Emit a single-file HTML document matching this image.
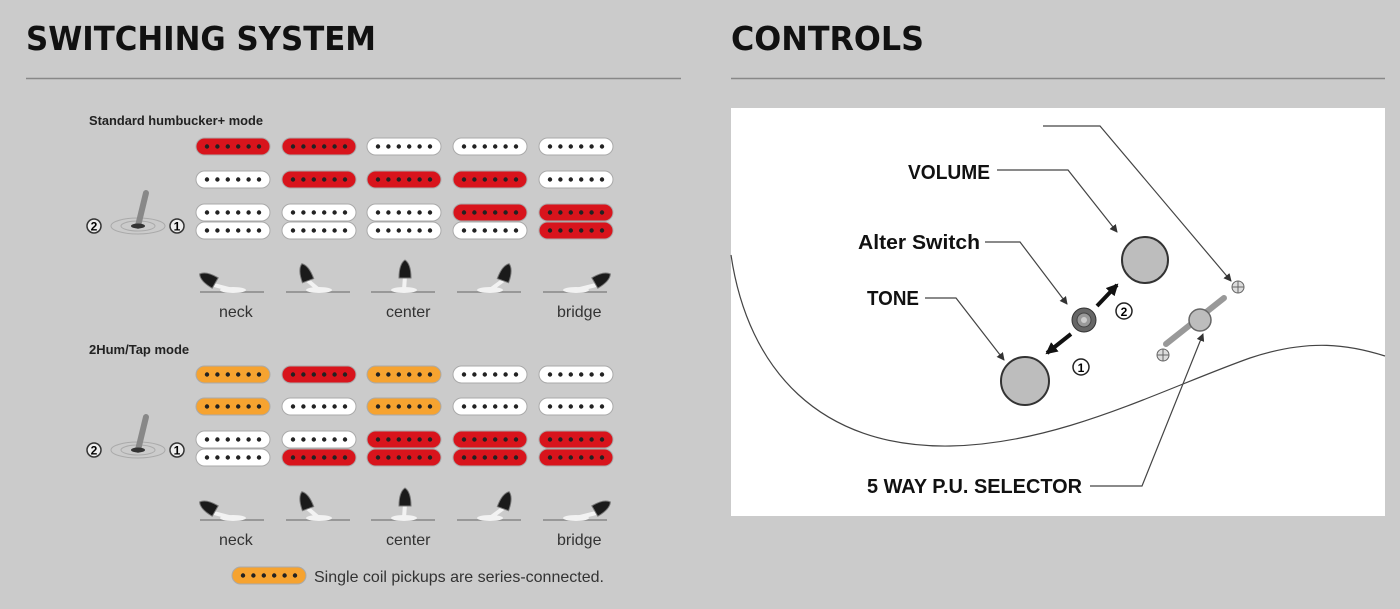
<!DOCTYPE html>
<html><head><meta charset="utf-8"><style>
html,body{margin:0;padding:0;background:#cbcbcb;}
svg{display:block}
.h{font-family:"DejaVu Sans","Liberation Sans",sans-serif;font-weight:bold;font-size:33px;fill:#111}
.s{font-family:"Liberation Sans",sans-serif;font-size:13px;fill:#222;font-weight:bold}
.l{font-family:"Liberation Sans",sans-serif;font-size:16px;fill:#333}
.c{font-family:"Liberation Sans",sans-serif;font-weight:bold;font-size:20px;fill:#111}
</style></head><body>
<svg id="s" width="1400" height="609" viewBox="0 0 1400 609" xmlns="http://www.w3.org/2000/svg">
<defs><marker id="a" markerWidth="8" markerHeight="8" refX="7" refY="4" orient="auto" markerUnits="userSpaceOnUse"><path d="M0,0 L8,4 L0,8z" fill="#333"/></marker>
<marker id="b" markerWidth="12" markerHeight="12" refX="10" refY="6" orient="auto" markerUnits="userSpaceOnUse"><path d="M0,0 L12,6 L0,12z" fill="#111"/></marker></defs>
<rect width="1400" height="609" fill="#cbcbcb"/>
<text class="h" x="26" y="50" textLength="350" lengthAdjust="spacingAndGlyphs">SWITCHING SYSTEM</text>
<text class="h" x="731" y="50" textLength="193" lengthAdjust="spacingAndGlyphs">CONTROLS</text>
<line x1="26" y1="78.5" x2="681" y2="78.5" stroke="#888" stroke-width="1.5"/>
<line x1="731" y1="78.5" x2="1385" y2="78.5" stroke="#888" stroke-width="1.5"/>
<text class="s" x="89" y="125" textLength="174" lengthAdjust="spacingAndGlyphs">Standard humbucker+ mode</text>
<text class="s" x="89" y="354">2Hum/Tap mode</text>
<g id="pk"></g>
<text class="l" x="219" y="317">neck</text><text class="l" x="386" y="317">center</text><text class="l" x="557" y="317">bridge</text>
<text class="l" x="219" y="545">neck</text><text class="l" x="386" y="545">center</text><text class="l" x="557" y="545">bridge</text>
<text class="l" x="314" y="582">Single coil pickups are series-connected.</text>
<!-- controls -->
<rect x="731" y="108" width="654" height="408" fill="#fff"/>
<path d="M731,255 C748,370 820,448 950,446 C1060,444 1160,390 1250,358 C1310,338 1350,345 1385,356" fill="none" stroke="#444" stroke-width="1.2"/>
<g fill="none" stroke="#444" stroke-width="1.2">
<polyline points="1043,126 1100,126 1231,281" marker-end="url(#a)"/>
<polyline points="997,170 1068,170 1117,232" marker-end="url(#a)"/>
<polyline points="985,242 1020,242 1067,304" marker-end="url(#a)"/>
<polyline points="925,298 956,298 1004,360" marker-end="url(#a)"/>
<polyline points="1090,486 1142,486 1203,334" marker-end="url(#a)"/>
</g>
<circle cx="1145" cy="260" r="23" fill="#bdbdbd" stroke="#333" stroke-width="2"/>
<circle cx="1025" cy="381" r="24" fill="#bdbdbd" stroke="#333" stroke-width="2"/>
<circle cx="1084" cy="320" r="12" fill="#666" stroke="#333"/><circle cx="1084" cy="320" r="7" fill="#999" stroke="#444"/><circle cx="1084" cy="320" r="3" fill="#ccc"/>
<line x1="1097" y1="306" x2="1117" y2="285" stroke="#111" stroke-width="4" marker-end="url(#b)"/>
<line x1="1071" y1="334" x2="1047" y2="353" stroke="#111" stroke-width="4" marker-end="url(#b)"/>
<circle cx="1124" cy="311" r="8" fill="#fff" stroke="#222" stroke-width="1.5"/><text x="1124" y="316" text-anchor="middle" font-family="Liberation Sans" font-weight="bold" font-size="12">2</text>
<circle cx="1081" cy="367" r="8" fill="#fff" stroke="#222" stroke-width="1.5"/><text x="1081" y="372" text-anchor="middle" font-family="Liberation Sans" font-weight="bold" font-size="12">1</text>
<line x1="1166" y1="344" x2="1224" y2="298" stroke="#999" stroke-width="6" stroke-linecap="round"/>
<circle cx="1200" cy="320" r="11" fill="#bdbdbd" stroke="#666" stroke-width="1.5"/>
<g stroke="#666" fill="#ddd"><circle cx="1238" cy="287" r="6"/><circle cx="1163" cy="355" r="6"/></g>
<g stroke="#666"><path d="M1232,287h12M1238,281v12M1157,355h12M1163,349v12"/></g>
<text class="c" x="908" y="179" textLength="82" lengthAdjust="spacingAndGlyphs">VOLUME</text>
<text class="c" x="858" y="249" textLength="122" lengthAdjust="spacingAndGlyphs">Alter Switch</text>
<text class="c" x="867" y="305" textLength="52" lengthAdjust="spacingAndGlyphs">TONE</text>
<text class="c" x="867" y="493" textLength="215" lengthAdjust="spacingAndGlyphs">5 WAY P.U. SELECTOR</text>
</svg>
<script>
var NS="http://www.w3.org/2000/svg",g=document.getElementById('pk');
function el(t,a){var e=document.createElementNS(NS,t);for(var k in a)e.setAttribute(k,a[k]);g.appendChild(e);return e;}
var col={R:'#d8141c',W:'#ffffff',O:'#f6a330'};
function pu(x,y,c){el('rect',{x:x,y:y,width:74,height:17,rx:8.5,fill:col[c],stroke:'#aaa','stroke-width':1});
for(var i=0;i<6;i++)el('circle',{cx:x+11+i*10.4,cy:y+8.5,r:2.2,fill:'#222'});}
var xs=[196,282,367,453,539];
var A={y:[138,171,204,222],r:['RRWWW','WRRRW','WWWRR','WWWWR']};
var B={y:[366,398,431,449],r:['OROWW','OWOWW','WWRRR','WRRRR']};
[A,B].forEach(function(S){for(var j=0;j<4;j++)for(var i=0;i<5;i++)pu(xs[i],S.y[j],S.r[j][i]);});
pu(232,567,'O');
function tog(cy){
el('ellipse',{cx:138,cy:cy,rx:27,ry:8,fill:'none',stroke:'#aaa'});
el('ellipse',{cx:138,cy:cy,rx:17,ry:5,fill:'none',stroke:'#aaa'});
el('line',{x1:138,y1:cy,x2:146,y2:cy-33,stroke:'#888','stroke-width':6,'stroke-linecap':'round'});
el('ellipse',{cx:138,cy:cy,rx:7,ry:2.5,fill:'#333'});
[[94,'2'],[177,'1']].forEach(function(p){el('circle',{cx:p[0],cy:cy,r:7,fill:'#eee',stroke:'#333','stroke-width':1.5});
var t=el('text',{x:p[0],y:cy+4.5,'text-anchor':'middle','font-family':'Liberation Sans','font-weight':'bold','font-size':12});t.textContent=p[1];});}
tog(226);tog(450);
function lev(cy){var ang=[-60,-20,0,20,60],kx=[210,306,405,505,600],ky=[-12,-17,-20,-17,-12];
for(var i=0;i<5;i++){var x0=xs[i]+4;el('line',{x1:x0,y1:cy,x2:x0+64,y2:cy,stroke:'#888','stroke-width':1.5});
el('ellipse',{cx:xs[i]+37,cy:cy-2,rx:13,ry:3,fill:'#f2f2f2'});
var bx=xs[i]+37;el('line',{x1:bx,y1:cy-2,x2:kx[i],y2:cy+ky[i]+4,stroke:'#f2f2f2','stroke-width':4});
el('path',{d:'M-6,6 Q-6,-8 0,-12 Q6,-8 6,6 z',fill:'#1a1a1a',stroke:'#777','stroke-width':1,transform:'translate('+kx[i]+','+(cy+ky[i])+') rotate('+ang[i]+')'});}}
lev(292);lev(520);
</script>
</body></html>
